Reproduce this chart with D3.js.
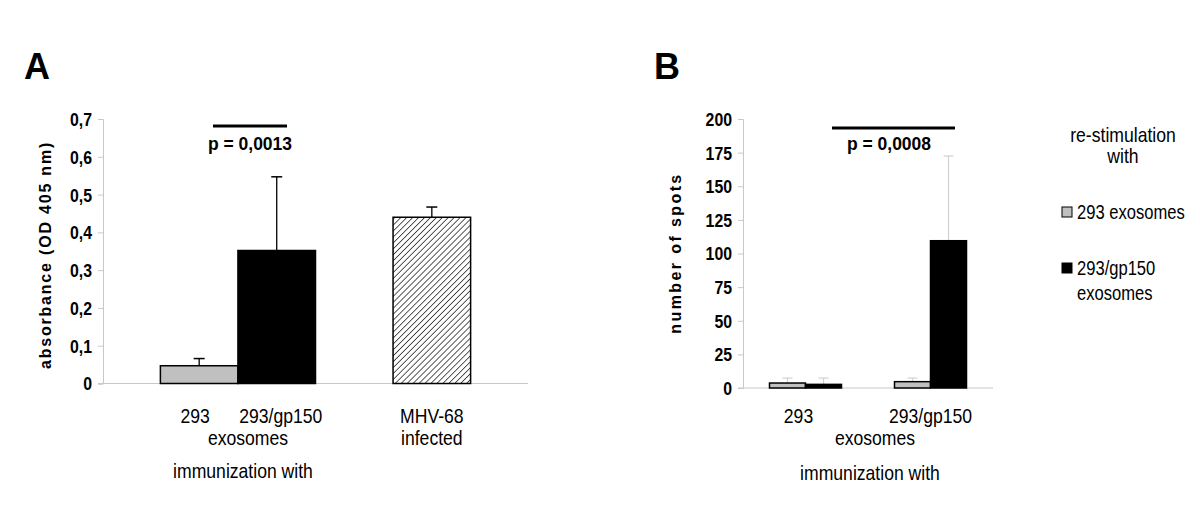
<!DOCTYPE html>
<html>
<head>
<meta charset="utf-8">
<script src="https://cdn.jsdelivr.net/npm/d3@7"></script>
<style>
  html, body { margin: 0; padding: 0; background: #fff; }
  svg { display: block; font-family: "Liberation Sans", Arial, sans-serif; }
</style>
</head>
<body>
<svg id="chart" width="1200" height="505"></svg>
<script>
// ---------- Data ----------
// Panel A
const aBars = ["293", "293/gp150", "gap", "MHV-68"];
const aValues = [0.047, 0.352, null, 0.440];
const aErrors = [0.019, 0.195, null, 0.027];
const aFills = ["gray", "black", null, "hatch"];
const aTicks = [0, 0.1, 0.2, 0.3, 0.4, 0.5, 0.6, 0.7];
const aTickLabels = ["0", "0,1", "0,2", "0,3", "0,4", "0,5", "0,6", "0,7"];
const aPValue = "p = 0,0013";

// Panel B
const bCategories = ["293", "293/gp150"];
const bSeries = ["293 exosomes", "293/gp150 exosomes"];
const bValues293 = [3.7, 4.7];        // re-stimulation with 293 exosomes
const bValuesGp150 = [2.7, 109.5];    // re-stimulation with 293/gp150 exosomes
const bErrors293 = [3.7, 2.7];
const bErrorsGp150 = [4.7, 63.0];
const bTicks = [0, 25, 50, 75, 100, 125, 150, 175, 200];
const bPValue = "p = 0,0008";

const svg = d3.select("#chart");
const defs = svg.append("defs");
const pat = defs.append("pattern")
  .attr("id", "hatch").attr("patternUnits", "userSpaceOnUse")
  .attr("width", 4.2).attr("height", 4.2)
  .attr("patternTransform", "rotate(45)");
pat.append("rect").attr("width", 4.2).attr("height", 4.2).attr("fill", "#fff");
pat.append("line").attr("x1", 0).attr("y1", 0).attr("x2", 0).attr("y2", 4.2)
  .attr("stroke", "#000").attr("stroke-width", 1.3);

const fillFor = f => f === "gray" ? "#c0c0c0" : f === "black" ? "#000" : "url(#hatch)";
const axisColor = "#c8c8c8";

// condensed-looking text helper
function label(g, t, x, y, opts = {}) {
  const size = opts.size || 20, sx = opts.sx || 0.88;
  return g.append("text")
    .attr("transform", `translate(${x},${y}) scale(${sx},1)`)
    .attr("text-anchor", opts.anchor || "middle")
    .attr("font-size", size)
    .attr("font-weight", opts.bold ? "bold" : null)
    .text(t);
}

function drawYAxis(g, y, x0, ticks, labels) {
  const ax = d3.axisLeft(y).tickValues(ticks).tickSize(5).tickPadding(0)
    .tickFormat((d, i) => labels ? labels[i] : d);
  const gg = g.append("g").attr("transform", `translate(${x0},0)`).call(ax);
  gg.select(".domain").attr("stroke", axisColor).attr("stroke-width", 1);
  gg.selectAll(".tick line").attr("stroke", axisColor);
  gg.selectAll(".tick text").attr("font-size", 18).attr("font-weight", "bold")
    .attr("fill", "#000").attr("font-family", "'Liberation Sans', Arial, sans-serif")
    .attr("x", null).attr("dy", "0.36em")
    .attr("transform", "translate(-11,0) scale(0.88,1)");
}

// ---------- Panel A ----------
const gA = svg.append("g");
const yA = d3.scaleLinear().domain([0, 0.7]).range([383.5, 119]);
const xA = d3.scaleBand().domain(aBars).range([103, 528]).paddingInner(0).paddingOuter(0.74);

gA.append("line").attr("x1", 98).attr("x2", 528).attr("y1", yA(0)).attr("y2", yA(0))
  .attr("stroke", axisColor).attr("stroke-width", 1.2);
drawYAxis(gA, yA, 103, aTicks, aTickLabels);

aBars.forEach((k, i) => {
  if (aValues[i] == null) return;
  const cx = xA(k) + xA.bandwidth() / 2;
  gA.append("line").attr("x1", cx).attr("x2", cx)
    .attr("y1", yA(aValues[i])).attr("y2", yA(aValues[i] + aErrors[i]))
    .attr("stroke", "#000").attr("stroke-width", 1.3);
  gA.append("line").attr("x1", cx - 5.5).attr("x2", cx + 5.5)
    .attr("y1", yA(aValues[i] + aErrors[i])).attr("y2", yA(aValues[i] + aErrors[i]))
    .attr("stroke", "#000").attr("stroke-width", 1.5);
  gA.append("rect").attr("x", xA(k)).attr("width", xA.bandwidth())
    .attr("y", yA(aValues[i])).attr("height", yA(0) - yA(aValues[i]))
    .attr("fill", fillFor(aFills[i])).attr("stroke", "#000").attr("stroke-width", 1.5);
});

gA.append("line").attr("x1", 213).attr("x2", 287).attr("y1", 126).attr("y2", 126)
  .attr("stroke", "#000").attr("stroke-width", 3);
gA.append("text").attr("x", 250).attr("y", 150).attr("text-anchor", "middle")
  .attr("font-size", 17.5).attr("font-weight", "bold").text(aPValue);

gA.append("text").attr("x", 24).attr("y", 79).attr("font-size", 36)
  .attr("font-weight", "bold").text("A");

gA.append("text").attr("transform", "translate(51,255) rotate(-90)")
  .attr("text-anchor", "middle").attr("font-size", 16).attr("font-weight", "bold")
  .attr("letter-spacing", 1.8).text("absorbance (OD 405 nm)");

const cA = k => xA(k) + xA.bandwidth() / 2;
label(gA, "293", cA("293") - 4, 423);
label(gA, "293/gp150", cA("293/gp150") + 4, 423);
label(gA, "exosomes", 248, 445);
label(gA, "MHV-68", cA("MHV-68"), 423);
label(gA, "infected", cA("MHV-68"), 445);
label(gA, "immunization with", 243, 478);

// ---------- Panel B ----------
const gB = svg.append("g");
const yB = d3.scaleLinear().domain([0, 200]).range([388, 119]);
const x0B = d3.scaleBand().domain(bCategories).range([743, 993]).paddingInner(0.424).paddingOuter(0.212);
const x1B = d3.scaleBand().domain(bSeries).range([0, x0B.bandwidth()]);
const bFills = ["#c0c0c0", "#000"];

gB.append("line").attr("x1", 738).attr("x2", 993).attr("y1", yB(0)).attr("y2", yB(0))
  .attr("stroke", axisColor).attr("stroke-width", 1.2);
drawYAxis(gB, yB, 743, bTicks, null);

const bData = [];
bCategories.forEach((c, i) => {
  bData.push({c, s: bSeries[0], v: bValues293[i], e: bErrors293[i], f: bFills[0]});
  bData.push({c, s: bSeries[1], v: bValuesGp150[i], e: bErrorsGp150[i], f: bFills[1]});
});
bData.forEach(d => {
  const x = x0B(d.c) + x1B(d.s);
  const cx = x + x1B.bandwidth() / 2;
  gB.append("line").attr("x1", cx).attr("x2", cx)
    .attr("y1", yB(d.v)).attr("y2", yB(d.v + d.e))
    .attr("stroke", "#d0d0d0").attr("stroke-width", 1.2);
  gB.append("line").attr("x1", cx - 5).attr("x2", cx + 5)
    .attr("y1", yB(d.v + d.e)).attr("y2", yB(d.v + d.e))
    .attr("stroke", "#d0d0d0").attr("stroke-width", 1.2);
  gB.append("rect").attr("x", x).attr("width", x1B.bandwidth())
    .attr("y", yB(d.v)).attr("height", yB(0) - yB(d.v))
    .attr("fill", d.f).attr("stroke", "#000").attr("stroke-width", 1.5);
});

gB.append("line").attr("x1", 832).attr("x2", 955).attr("y1", 128).attr("y2", 128)
  .attr("stroke", "#000").attr("stroke-width", 3);
gB.append("text").attr("x", 889).attr("y", 150).attr("text-anchor", "middle")
  .attr("font-size", 17.5).attr("font-weight", "bold").text(bPValue);

gB.append("text").attr("x", 654).attr("y", 79).attr("font-size", 36)
  .attr("font-weight", "bold").text("B");

gB.append("text").attr("transform", "translate(681,253) rotate(-90)")
  .attr("text-anchor", "middle").attr("font-size", 16).attr("font-weight", "bold")
  .attr("letter-spacing", 2.4).text("number of spots");

label(gB, "293", x0B("293") + x0B.bandwidth() / 2 - 7, 423);
label(gB, "293/gp150", x0B("293/gp150") + x0B.bandwidth() / 2, 423);
label(gB, "exosomes", 875, 445);
label(gB, "immunization with", 870, 480);

// Legend
const gL = svg.append("g");
label(gL, "re-stimulation", 1123, 142);
label(gL, "with", 1123, 163);
const legRows = [
  {y: 212, f: bFills[0], lines: ["293 exosomes"]},
  {y: 268, f: bFills[1], lines: ["293/gp150", "exosomes"]}
];
legRows.forEach(r => {
  gL.append("rect").attr("x", 1062).attr("y", r.y - 5).attr("width", 10).attr("height", 10)
    .attr("fill", r.f).attr("stroke", "#000").attr("stroke-width", 1);
  r.lines.forEach((t, j) => {
    label(gL, t, 1077, r.y + 7 + j * 25, {anchor: "start", size: 19.5, sx: 0.85});
  });
});
</script>
</body>
</html>
